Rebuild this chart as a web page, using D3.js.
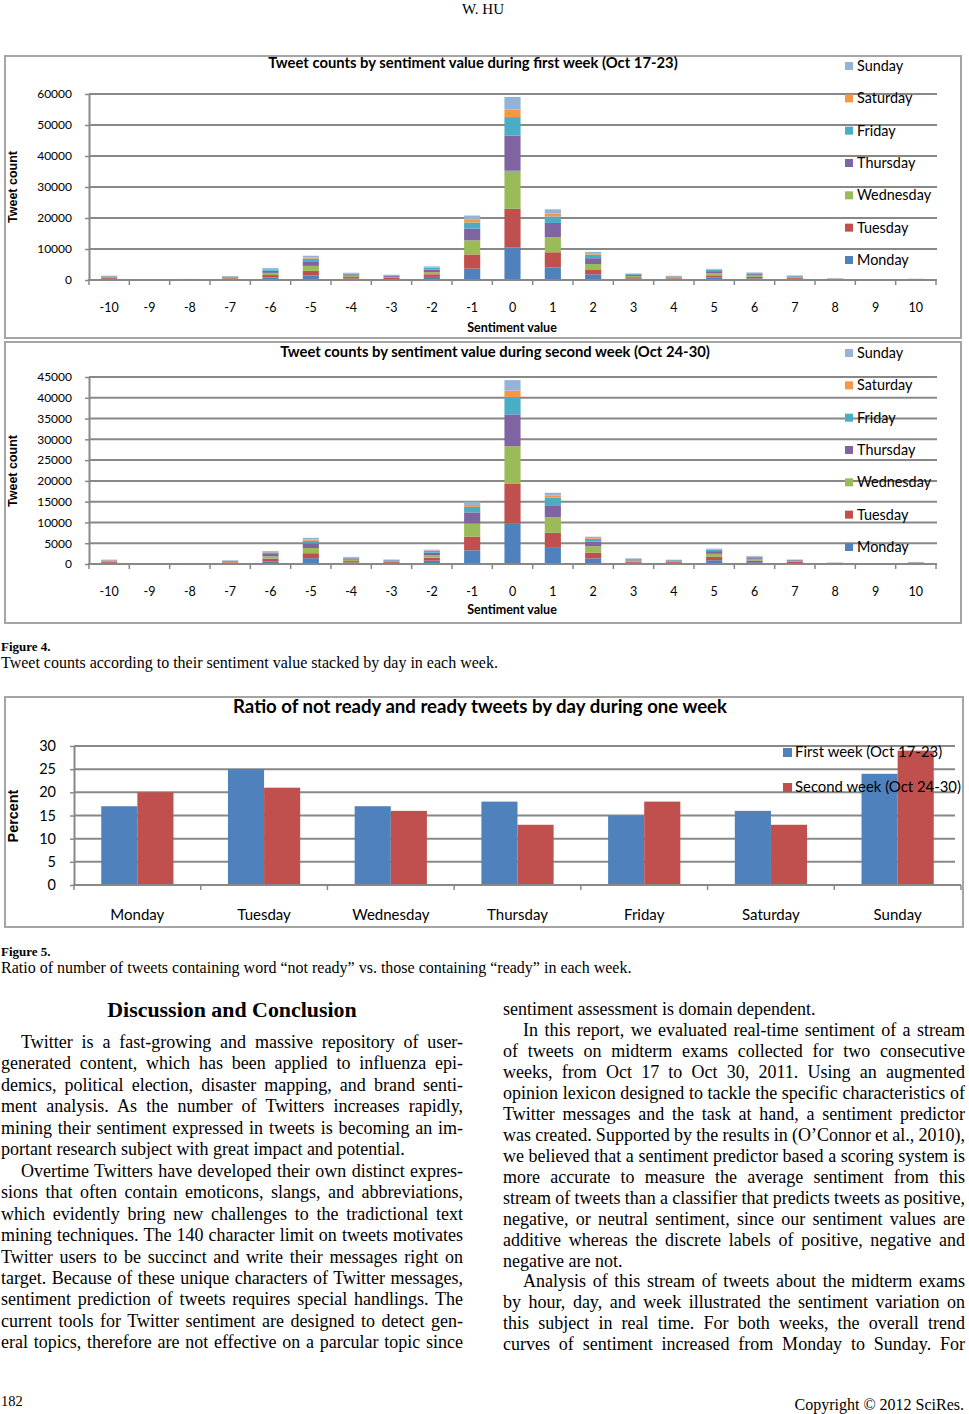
<!DOCTYPE html>
<html>
<head>
<meta charset="utf-8">
<script src="https://cdn.jsdelivr.net/npm/d3@7"></script>
<style>
body { margin: 0; background: #fff; }
svg { display: block; }
.cal { font-family: Lato, "Open Sans", sans-serif; }
.ari { font-family: "Liberation Sans", Arial, sans-serif; }
.tms { font-family: "Liberation Serif", "Times New Roman", serif; }
</style>
</head>
<body>
<svg id="page" width="969" height="1414"></svg>
<script>
// categories
let sentiments = [-10, -9, -8, -7, -6, -5, -4, -3, -2, -1, 0, 1, 2, 3, 4, 5, 6, 7, 8, 9, 10]
let days = ['Monday', 'Tuesday', 'Wednesday', 'Thursday', 'Friday', 'Saturday', 'Sunday']
let dayColors = ['#4f81bd', '#c0504d', '#9bbb59', '#8064a2', '#4bacc6', '#f79646', '#95b3d7']

// week 1 (Oct 17-23), tweet counts per sentiment value
let w1Mon = [250, 0, 60, 250, 800, 1500, 450, 300, 1000, 3650, 10550, 4080, 1830, 450, 250, 800, 500, 300, 100, 0, 80]
let w1Tue = [350, 0, 60, 300, 800, 1450, 500, 350, 850, 4600, 12400, 4870, 1390, 450, 300, 700, 500, 300, 100, 0, 80]
let w1Wed = [250, 0, 60, 250, 700, 1600, 450, 350, 700, 4550, 12300, 4900, 1930, 400, 300, 700, 450, 300, 100, 0, 80]
let w1Thu = [250, 0, 60, 200, 700, 1500, 450, 300, 800, 3800, 11300, 4560, 1880, 400, 250, 650, 450, 250, 100, 0, 60]
let w1Fri = [150, 0, 40, 150, 450, 860, 250, 200, 550, 1950, 6000, 2090, 1180, 250, 120, 400, 280, 200, 80, 0, 40]
let w1Sat = [50, 0, 30, 50, 150, 320, 100, 80, 200, 850, 2400, 970, 430, 80, 50, 120, 100, 50, 30, 0, 20]
let w1Sun = [100, 0, 40, 100, 300, 600, 150, 120, 300, 1400, 4100, 1340, 430, 120, 80, 230, 170, 100, 40, 0, 40]

// week 2 (Oct 24-30)
let w2Mon = [200, 0, 40, 150, 650, 1400, 350, 200, 800, 3285, 9690, 3885, 1360, 300, 250, 900, 450, 200, 80, 0, 100]
let w2Tue = [250, 0, 40, 250, 650, 1200, 350, 250, 700, 3325, 9575, 3605, 1400, 300, 200, 800, 400, 300, 60, 0, 100]
let w2Wed = [200, 0, 40, 150, 550, 1250, 350, 200, 650, 3120, 9090, 3765, 1525, 250, 200, 750, 400, 200, 60, 0, 100]
let w2Thu = [150, 0, 40, 150, 550, 1100, 300, 200, 600, 2685, 7650, 2880, 1120, 250, 200, 650, 350, 200, 60, 0, 80]
let w2Fri = [100, 0, 30, 100, 400, 650, 200, 120, 400, 1325, 4125, 1885, 645, 150, 120, 400, 200, 100, 50, 0, 60]
let w2Sat = [50, 0, 30, 30, 100, 250, 70, 50, 100, 475, 1600, 480, 185, 50, 30, 80, 50, 40, 20, 0, 30]
let w2Sun = [100, 0, 30, 70, 200, 450, 100, 80, 200, 765, 2525, 640, 335, 100, 50, 120, 100, 60, 20, 0, 30]

let w1Ticks = [0, 10000, 20000, 30000, 40000, 50000, 60000]
let w2Ticks = [0, 5000, 10000, 15000, 20000, 25000, 30000, 35000, 40000, 45000]

// figure 5: ratio not ready / ready, percent
let ratioWeeks = ['First week (Oct 17-23)', 'Second week (Oct 24-30)']
let ratioColors = ['#4f81bd', '#c0504d']
let ratioFirst = [17, 25, 17, 18, 15, 16, 24]
let ratioSecond = [20, 21, 16, 13, 18, 13, 29]
let ratioTicks = [0, 5, 10, 15, 20, 25, 30]

// page text
let leftLines = [
    {t: 'Twitter is a fast-growing and massive repository of user-', ind: 1},
    {t: 'generated content, which has been applied to influenza epi-'},
    {t: 'demics, political election, disaster mapping, and brand senti-'},
    {t: 'ment analysis. As the number of Twitters increases rapidly,'},
    {t: 'mining their sentiment expressed in tweets is becoming an im-'},
    {t: 'portant research subject with great impact and potential.', end: 1},
    {t: 'Overtime Twitters have developed their own distinct expres-', ind: 1},
    {t: 'sions that often contain emoticons, slangs, and abbreviations,'},
    {t: 'which evidently bring new challenges to the tradictional text'},
    {t: 'mining techniques. The 140 character limit on tweets motivates'},
    {t: 'Twitter users to be succinct and write their messages right on'},
    {t: 'target. Because of these unique characters of Twitter messages,'},
    {t: 'sentiment prediction of tweets requires special handlings. The'},
    {t: 'current tools for Twitter sentiment are designed to detect gen-'},
    {t: 'eral topics, therefore are not effective on a parcular topic since'}
]
let rightLines = [
    {t: 'sentiment assessment is domain dependent.', end: 1},
    {t: 'In this report, we evaluated real-time sentiment of a stream', ind: 1},
    {t: 'of tweets on midterm exams collected for two consecutive'},
    {t: 'weeks, from Oct 17 to Oct 30, 2011. Using an augmented'},
    {t: 'opinion lexicon designed to tackle the specific characteristics of'},
    {t: 'Twitter messages and the task at hand, a sentiment predictor'},
    {t: 'was created. Supported by the results in (O\u2019Connor et al., 2010),'},
    {t: 'we believed that a sentiment predictor based a scoring system is'},
    {t: 'more accurate to measure the average sentiment from this'},
    {t: 'stream of tweets than a classifier that predicts tweets as positive,'},
    {t: 'negative, or neutral sentiment, since our sentiment values are'},
    {t: 'additive whereas the discrete labels of positive, negative and'},
    {t: 'negative are not.', end: 1},
    {t: 'Analysis of this stream of tweets about the midterm exams', ind: 1},
    {t: 'by hour, day, and week illustrated the sentiment variation on'},
    {t: 'this subject in real time. For both weeks, the overall trend'},
    {t: 'curves of sentiment increased from Monday to Sunday. For'}
]

let page = d3.select('#page')
page.append('rect').attr('width', 969).attr('height', 1414).attr('fill', '#fff')

let gridColor = '#888888'

let drawStacked = (series, cfg) => {
    let rows = sentiments.map((s, i) => {
        let row = {sentiment: s}
        days.forEach((d, k) => { row[d] = series[k][i] })
        return row
    })

    let g = page.append('g')
    g.append('rect')
        .attr('x', 5).attr('y', cfg.boxTop)
        .attr('width', 956).attr('height', cfg.boxH)
        .attr('fill', '#fff').attr('stroke', '#a5a5a5').attr('stroke-width', 2)

    let x = d3.scaleBand().domain(sentiments).range([89, 936]).paddingInner(0.6).paddingOuter(0.3)
    let y = d3.scaleLinear().domain([0, cfg.ticks[cfg.ticks.length - 1]]).range([cfg.y0, cfg.yTop])

    g.selectAll('.grid')
        .data(cfg.ticks.slice(1))
        .enter()
        .append('line')
        .attr('x1', 89).attr('x2', 937)
        .attr('y1', d => y(d)).attr('y2', d => y(d))
        .attr('stroke', gridColor).attr('stroke-width', 2)

    let stacked = d3.stack().keys(days)(rows)
    g.selectAll('.layer')
        .data(stacked)
        .enter()
        .append('g')
        .attr('fill', (d, i) => dayColors[i])
        .selectAll('rect')
        .data(d => d)
        .enter()
        .append('rect')
        .attr('x', d => x(d.data.sentiment))
        .attr('width', x.bandwidth())
        .attr('y', d => y(d[1]))
        .attr('height', d => y(d[0]) - y(d[1]))

    let yAxis = g.append('g')
        .attr('class', 'cal')
        .attr('transform', 'translate(89,0)')
        .call(d3.axisLeft(y).tickValues(cfg.ticks).tickSize(4).tickSizeOuter(0).tickPadding(13).tickFormat(d3.format('d')))
    yAxis.select('.domain').attr('stroke', gridColor).attr('stroke-width', 2)
    yAxis.selectAll('.tick line').attr('stroke', gridColor).attr('stroke-width', 1.5)
    yAxis.selectAll('text').attr('font-size', 12).attr('fill', '#000')

    let xAxis = g.append('g')
        .attr('class', 'cal')
        .attr('transform', 'translate(0,' + cfg.y0 + ')')
        .call(d3.axisBottom(x).tickSize(0).tickSizeOuter(0).tickPadding(23))
    xAxis.select('.domain').remove()
    xAxis.selectAll('text').attr('font-size', 12.5).attr('fill', '#000')

    g.append('line')
        .attr('x1', 88).attr('x2', 937)
        .attr('y1', cfg.y0).attr('y2', cfg.y0)
        .attr('stroke', gridColor).attr('stroke-width', 2)

    let bounds = sentiments.map(s => x(s) - (x.step() - x.bandwidth()) / 2)
    bounds.push(bounds[bounds.length - 1] + x.step())
    g.selectAll('.btick')
        .data(bounds)
        .enter()
        .append('line')
        .attr('x1', d => d).attr('x2', d => d)
        .attr('y1', cfg.y0).attr('y2', cfg.y0 + 5)
        .attr('stroke', gridColor).attr('stroke-width', 1.5)

    g.append('text')
        .attr('class', 'cal')
        .attr('x', cfg.titleX).attr('y', cfg.titleY)
        .attr('text-anchor', 'middle')
        .attr('font-size', 14.8).attr('font-weight', 'bold')
        .text(cfg.title)

    g.append('text')
        .attr('class', 'cal')
        .attr('x', 512).attr('y', cfg.xTitleY)
        .attr('text-anchor', 'middle')
        .attr('font-size', 12.5).attr('font-weight', 'bold')
        .text('Sentiment value')

    g.append('text')
        .attr('class', 'ari')
        .attr('transform', 'translate(17,' + cfg.yTitleY + ') rotate(-90)')
        .attr('text-anchor', 'middle')
        .attr('font-size', 12.5).attr('font-weight', 'bold')
        .text('Tweet count')

    let legendOrder = days.slice().reverse()
    let leg = g.selectAll('.leg')
        .data(legendOrder)
        .enter()
        .append('g')
        .attr('transform', (d, i) => 'translate(845,' + (cfg.legendTop + i * 32.33) + ')')
    leg.append('rect')
        .attr('x', 0).attr('y', -4)
        .attr('width', 8).attr('height', 8)
        .attr('fill', d => dayColors[days.indexOf(d)])
    leg.append('text')
        .attr('class', 'cal')
        .attr('x', 12).attr('y', 5)
        .attr('font-size', 14.4)
        .text(d => d)
}

drawStacked([w1Mon, w1Tue, w1Wed, w1Thu, w1Fri, w1Sat, w1Sun], {
    boxTop: 56, boxH: 282, y0: 280, yTop: 94, ticks: w1Ticks,
    title: 'Tweet counts by sentiment value during first week (Oct 17-23)',
    titleX: 473, titleY: 68, xTitleY: 332, yTitleY: 187, legendTop: 66
})

drawStacked([w2Mon, w2Tue, w2Wed, w2Thu, w2Fri, w2Sat, w2Sun], {
    boxTop: 342, boxH: 281, y0: 564, yTop: 377, ticks: w2Ticks,
    title: 'Tweet counts by sentiment value during second week (Oct 24-30)',
    titleX: 495, titleY: 357, xTitleY: 614, yTitleY: 471, legendTop: 353
})

// figure 5
let drawRatio = () => {
    let g = page.append('g')
    g.append('rect')
        .attr('x', 5).attr('y', 697)
        .attr('width', 958).attr('height', 230)
        .attr('fill', '#fff').attr('stroke', '#a5a5a5').attr('stroke-width', 2)

    let x0 = d3.scaleBand().domain(days).range([74, 961]).paddingInner(0.43).paddingOuter(0.215)
    let x1 = d3.scaleBand().domain([0, 1]).range([0, x0.bandwidth()])
    let y = d3.scaleLinear().domain([0, 30]).range([885, 746])

    g.selectAll('.grid')
        .data(ratioTicks.slice(1))
        .enter()
        .append('line')
        .attr('x1', 74).attr('x2', 955)
        .attr('y1', d => y(d)).attr('y2', d => y(d))
        .attr('stroke', gridColor).attr('stroke-width', 2)

    let rows = days.map((d, i) => ({day: d, vals: [ratioFirst[i], ratioSecond[i]]}))
    let grp = g.selectAll('.grp')
        .data(rows)
        .enter()
        .append('g')
        .attr('transform', d => 'translate(' + x0(d.day) + ',0)')
    grp.selectAll('rect')
        .data(d => d.vals)
        .enter()
        .append('rect')
        .attr('x', (v, i) => x1(i))
        .attr('width', x1.bandwidth())
        .attr('y', v => y(v))
        .attr('height', v => y(0) - y(v))
        .attr('fill', (v, i) => ratioColors[i])

    let yAxis = g.append('g')
        .attr('class', 'cal')
        .attr('transform', 'translate(74,0)')
        .call(d3.axisLeft(y).tickValues(ratioTicks).tickSize(4).tickSizeOuter(0).tickPadding(14))
    yAxis.select('.domain').attr('stroke', gridColor).attr('stroke-width', 2)
    yAxis.selectAll('.tick line').attr('stroke', gridColor).attr('stroke-width', 1.5)
    yAxis.selectAll('text').attr('font-size', 14.5).attr('fill', '#000')

    let xAxis = g.append('g')
        .attr('class', 'cal')
        .attr('transform', 'translate(0,885)')
        .call(d3.axisBottom(x0).tickSize(0).tickSizeOuter(0).tickPadding(24))
    xAxis.select('.domain').remove()
    xAxis.selectAll('text').attr('font-size', 15).attr('fill', '#000')

    g.append('line')
        .attr('x1', 73).attr('x2', 961)
        .attr('y1', 885).attr('y2', 885)
        .attr('stroke', gridColor).attr('stroke-width', 2)

    let bounds = days.map(d => x0(d) - (x0.step() - x0.bandwidth()) / 2)
    bounds.push(bounds[bounds.length - 1] + x0.step())
    g.selectAll('.btick')
        .data(bounds)
        .enter()
        .append('line')
        .attr('x1', d => d).attr('x2', d => d)
        .attr('y1', 885).attr('y2', 890)
        .attr('stroke', gridColor).attr('stroke-width', 1.5)

    g.append('text')
        .attr('class', 'cal')
        .attr('x', 480).attr('y', 713)
        .attr('text-anchor', 'middle')
        .attr('font-size', 18.6).attr('font-weight', 'bold')
        .text('Ratio of not ready and ready tweets by day during one week')

    g.append('text')
        .attr('class', 'ari')
        .attr('transform', 'translate(18,816) rotate(-90)')
        .attr('text-anchor', 'middle')
        .attr('font-size', 14.4).attr('font-weight', 'bold')
        .text('Percent')

    let leg = g.selectAll('.leg')
        .data(ratioWeeks)
        .enter()
        .append('g')
        .attr('transform', (d, i) => 'translate(783,' + (752 + i * 35) + ')')
    leg.append('rect')
        .attr('x', 0).attr('y', -4)
        .attr('width', 9).attr('height', 9)
        .attr('fill', (d, i) => ratioColors[i])
    leg.append('text')
        .attr('class', 'cal')
        .attr('x', 12).attr('y', 5)
        .attr('font-size', 14.9)
        .text(d => d)
}
drawRatio()

// page furniture
let addText = (txt, x, y, size, opts) => {
    let o = opts || {}
    return page.append('text')
        .attr('class', 'tms')
        .attr('x', x).attr('y', y)
        .attr('font-size', size)
        .attr('font-weight', o.bold ? 'bold' : 'normal')
        .attr('text-anchor', o.anchor || 'start')
        .text(txt)
}

addText('W. HU', 483, 14, 15, {anchor: 'middle'})
addText('Figure 4.', 1, 651, 13, {bold: true})
addText('Tweet counts according to their sentiment value stacked by day in each week.', 1, 668, 16)
addText('Figure 5.', 1, 956, 13, {bold: true})
addText('Ratio of number of tweets containing word \u201cnot ready\u201d vs. those containing \u201cready\u201d in each week.', 1, 973, 16)
addText('Discussion and Conclusion', 232, 1017, 21.9, {bold: true, anchor: 'middle'})
addText('182', 1, 1406, 14.5)
addText('Copyright \u00a9 2012 SciRes.', 964, 1410, 16, {anchor: 'end'})

let drawColumn = (lines, x0, width, y0, lineH) => {
    lines.forEach((ln, i) => {
        let ind = ln.ind ? 20 : 0
        let t = addText(ln.t, x0 + ind, y0 + i * lineH, 18)
        if (!ln.end) {
            let w = t.node().getComputedTextLength()
            let gaps = ln.t.split(' ').length - 1
            if (gaps > 0) t.style('word-spacing', ((width - ind - w) / gaps) + 'px')
        }
    })
}
drawColumn(leftLines, 1, 462, 1048, 21.45)
drawColumn(rightLines, 503, 462, 1015, 20.96)
</script>
</body>
</html>
